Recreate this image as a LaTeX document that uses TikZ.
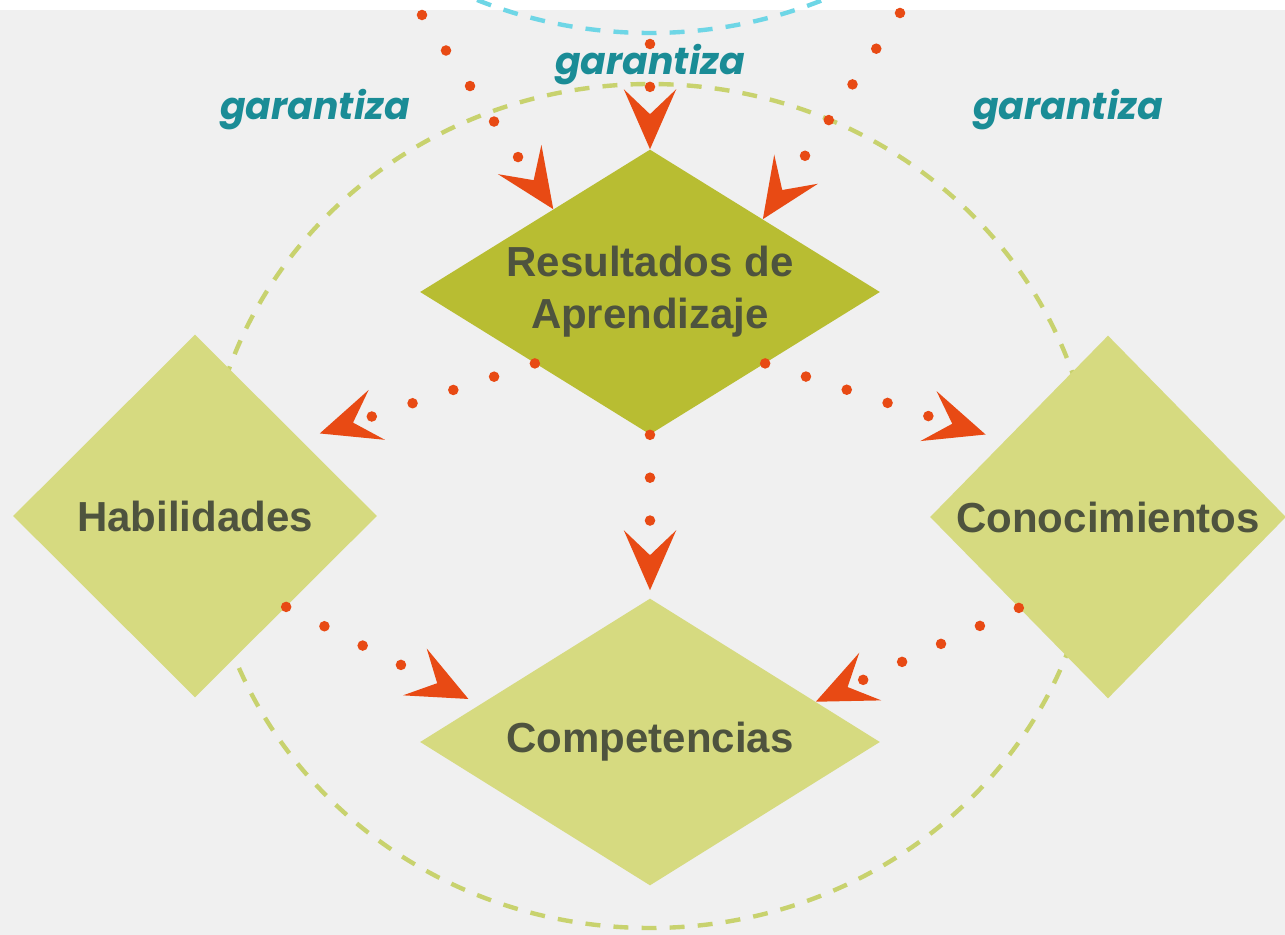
\documentclass[tikz,border=0pt]{standalone}
\usepackage{fontspec}
\setmainfont{Liberation Sans}
\newfontfamily\garfont{Poppins}
\usetikzlibrary{shapes.geometric,arrows.meta,calc}
\definecolor{fondo}{RGB}{240,240,240}
\definecolor{oliva}{RGB}{184,189,50}
\definecolor{olivaclaro}{RGB}{214,218,128}
\definecolor{anillo}{RGB}{200,210,110}
\definecolor{celeste}{RGB}{110,214,230}
\definecolor{naranja}{RGB}{232,74,20}
\definecolor{texto}{RGB}{78,83,62}
\definecolor{turquesa}{RGB}{26,140,150}
\begin{document}
\begin{tikzpicture}[x=0.02cm,y=-0.02cm,
  rombo/.style={diamond,fill=olivaclaro,inner sep=0pt,aspect=1,text=texto,
    font=\fontsize{23.9}{29.5}\selectfont\bfseries,align=center},
  flecha/.style={naranja,line width=6pt,line cap=round,dash pattern=on 0pt off 24.4pt,
    -{Stealth[length=1.2cm,width=1.05cm,inset=0.5cm,line width=0pt]}},
  etiqueta/.style={text=turquesa,font=\garfont\fontsize{21.5}{25}\selectfont\bfseries\itshape},
  anillo/.style={line width=2.5pt,dash pattern=on 8.5pt off 7.5pt}]
\useasboundingbox (0,0) rectangle (1285,935);
\fill[fondo] (0,0) rectangle (1285,935);
\fill[white] (0,0) rectangle (1285,10);

\draw[anillo,draw=celeste] (650,-389) ellipse [x radius=445,y radius=422];
\draw[anillo,draw=anillo] (650,506) ellipse [x radius=445,y radius=422];

\node[rombo,fill=oliva,aspect=1.6,minimum width=9.2cm,minimum height=5.7cm] (res) at (650,292) {Resultados de\\Aprendizaje};
\node[rombo,minimum width=7.28cm,minimum height=7.26cm] (hab) at (195,516) {Habilidades};
\node[rombo,minimum width=7.12cm,minimum height=7.26cm] (con) at (1108,517) {Conocimientos};
\node[rombo,aspect=1.6,minimum width=9.2cm,minimum height=5.74cm] (comp) at (650,742) {Competencias};

\coordinate (g1) at (422,15);
\coordinate (g2) at (650,44);
\coordinate (g3) at (900,13);
\draw[flecha] (g1) -- ($(res.west)!0.58!(res.north)$);
\draw[flecha] (g2) -- (res.north);
\draw[flecha] (g3) -- ($(res.north)!0.49!(res.east)$);
\draw[flecha,shorten >=0.4cm] (res.south west) -- ($(hab.north)!0.58!(hab.east)$);
\draw[flecha,shorten >=0.4cm] (res.south east) -- ($(con.north)!0.58!(con.west)$);
\draw[flecha,shorten >=0.16cm] (res.south) -- (comp.north);
\draw[flecha,shorten >=0.25cm] (hab.south east) -- ($(comp.west)!0.26!(comp.north)$);
\draw[flecha] (con.south west) -- ($(comp.east)!0.28!(comp.north)$);

\node[etiqueta] (gar1) at (315,110) {garantiza};
\node[etiqueta] (gar2) at (650,65) {garantiza};
\node[etiqueta] (gar3) at (1068,110) {garantiza};
\end{tikzpicture}
\end{document}
